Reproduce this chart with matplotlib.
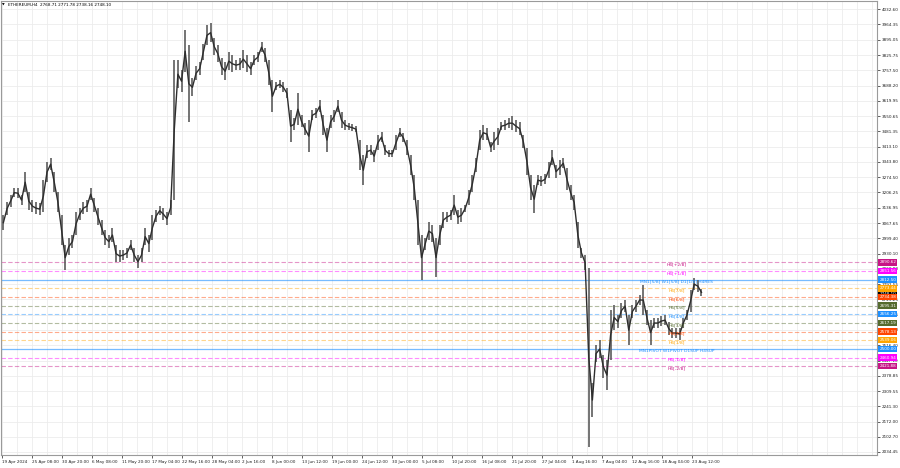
import matplotlib.pyplot as plt
import numpy as np

# ETHEREUM,H4 - each entry = one block of 4 H4 bars (high / low)
high = [3103, 3162, 3194, 3225, 3225, 3194, 3297, 3207, 3171, 3162,
        3158, 3261, 3343, 3361, 3297, 3207, 3103, 2968, 3000, 3013,
        3117, 3135, 3162, 3171, 3225, 3180, 3135, 3081, 3036, 3013,
        3045, 2968, 2946, 2946, 2955, 2991, 2955, 2923, 2955, 3045,
        3013, 3103, 3126, 3144, 3135, 3117, 3171, 3803, 3803, 3758,
        3938, 3870, 3721, 3776, 3794, 3875, 3960, 3970, 3902, 3870,
        3812, 3794, 3839, 3825, 3803, 3812, 3848, 3825, 3794, 3825,
        3839, 3884, 3857, 3803, 3712, 3703, 3712, 3703, 3676, 3577,
        3541, 3654, 3554, 3518, 3532, 3577, 3586, 3622, 3554, 3496,
        3554, 3577, 3622, 3568, 3532, 3518, 3514, 3505, 3442, 3374,
        3419, 3419, 3397, 3464, 3478, 3419, 3397, 3397, 3464, 3496,
        3473, 3442, 3374, 3284, 3171, 3013, 3000, 3072, 3058, 3000,
        3058, 3117, 3117, 3126, 3194, 3126, 3135, 3149, 3216, 3284,
        3361, 3487, 3509, 3496, 3433, 3478, 3496, 3523, 3532, 3541,
        3550, 3532, 3523, 3464, 3406, 3284, 3239, 3284, 3279, 3288,
        3343, 3397, 3329, 3352, 3361, 3315, 3239, 3194, 3072, 2955,
        2923, 2864, 2346, 2517, 2540, 2472, 2449, 2675, 2698, 2652,
        2707, 2720, 2652, 2698, 2720, 2743, 2788, 2675, 2630, 2639,
        2639, 2648, 2652, 2621, 2594, 2594, 2594, 2639, 2675, 2765,
        2819, 2810, 2772]
low = [3036, 3103, 3140, 3185, 3180, 3149, 3207, 3126, 3117, 3108,
       3103, 3117, 3252, 3306, 3207, 3117, 2968, 2855, 2923, 2955,
       3013, 3081, 3108, 3117, 3171, 3117, 3058, 3013, 2968, 2955,
       2982, 2891, 2891, 2901, 2910, 2946, 2891, 2864, 2891, 2968,
       2937, 2991, 3072, 3103, 3081, 3058, 3103, 3171, 3676, 3658,
       3748, 3523, 3640, 3712, 3735, 3803, 3870, 3884, 3825, 3794,
       3735, 3712, 3758, 3748, 3758, 3758, 3767, 3748, 3735, 3780,
       3794, 3839, 3794, 3690, 3568, 3667, 3676, 3658, 3631, 3433,
       3487, 3509, 3500, 3464, 3388, 3532, 3541, 3568, 3464, 3388,
       3496, 3523, 3568, 3496, 3487, 3487, 3482, 3478, 3306, 3239,
       3361, 3374, 3343, 3397, 3433, 3374, 3365, 3365, 3397, 3455,
       3433, 3374, 3284, 3171, 2968, 2810, 2946, 2991, 2982, 2824,
       2968, 3045, 3072, 3081, 3103, 3063, 3072, 3117, 3149, 3207,
       3297, 3397, 3442, 3442, 3388, 3397, 3419, 3487, 3487, 3496,
       3487, 3478, 3464, 3406, 3284, 3171, 3112, 3239, 3234, 3243,
       3270, 3329, 3270, 3284, 3315, 3216, 3171, 3126, 2955, 2910,
       2855, 2057, 2192, 2440, 2458, 2368, 2314, 2449, 2585, 2594,
       2639, 2666, 2517, 2639, 2666, 2698, 2652, 2607, 2517, 2594,
       2594, 2603, 2607, 2562, 2549, 2549, 2540, 2594, 2630, 2666,
       2765, 2756, 2738]

price_ticks = [4032.60, 3964.35, 3895.05, 3825.75, 3757.50, 3688.20, 3619.95,
               3550.65, 3481.35, 3413.10, 3343.80, 3274.50, 3206.25, 3136.95,
               3067.65, 2999.40, 2930.10, 2860.80, 2792.55, 2723.25, 2653.95,
               2585.70, 2516.40, 2447.10, 2378.85, 2309.55, 2241.30, 2172.00,
               2102.70, 2034.45]

time_labels = ["19 Apr 2024", "25 Apr 08:00", "30 Apr 20:00", "6 May 08:00",
               "11 May 20:00", "17 May 04:00", "22 May 16:00", "28 May 04:00",
               "2 Jun 16:00", "8 Jun 00:00", "13 Jun 12:00", "19 Jun 00:00",
               "24 Jun 12:00", "30 Jun 00:00", "5 Jul 08:00", "10 Jul 20:00",
               "16 Jul 08:00", "21 Jul 20:00", "27 Jul 04:00", "1 Aug 16:00",
               "7 Aug 04:00", "12 Aug 16:00", "18 Aug 04:00", "23 Aug 12:00"]

level_prices = [2890.62, 2851.56, 2812.50, 2773.44, 2734.38, 2695.31, 2656.25,
                2617.19, 2578.13, 2539.06, 2500.00, 2460.94, 2421.88]
level_names = ["H4[+2/8]", "H4[+1/8]", "MN1[5/8] W1[5/8] D1[1/8] H4RES",
               "H4[7/8]", "H4[6/8]", "H4[5/8]", "H4[4/8]", "H4[3/8]",
               "H4[2/8]", "H4[1/8]", "MN1PIVOT W1PIVOT D1SUP H4SUP",
               "H4[-1/8]", "H4[-2/8]"]
level_colors = ["#c71585", "#ff00ff", "#1e90ff", "#ffa500", "#ff4500",
                "#556b2f", "#1e90ff", "#556b2f", "#ff4500", "#ffa500",
                "#1e90ff", "#ff00ff", "#c71585"]
level_solid = [False, False, True, False, False, False, False, False,
               False, False, True, False, False]

last_price = 2748.10
title = "ETHEREUM,H4  2768.71 2771.78 2738.16 2748.10"

plt.rcParams['font.family'] = ['DejaVu Sans']

fig = plt.figure(figsize=(9, 4.68), dpi=100)
ax = fig.add_axes([1/900, 13/468, 876/900, 454/468])

x = np.arange(len(high)) * 4 + 1.5   # 4 bars per block
mid = (np.array(high) + np.array(low)) / 2
ax.vlines(x, low, high, color='#5c5c5c', linewidth=1.2, zorder=3)
ax.plot(x, mid, color='#2e2e2e', linewidth=1.0, zorder=4)

# level lines
for p, c, s in zip(level_prices, level_colors, level_solid):
    if s:
        ax.axhline(p, color=c, alpha=0.6, linewidth=0.9, zorder=2)
    else:
        ax.axhline(p, color=c, alpha=0.45, linewidth=0.8,
                   linestyle=(0, (4, 2)), zorder=2)

for p, n, c in zip(level_prices, level_names, level_colors):
    ax.annotate(n, (742.5, p), xytext=(0, -1.6), textcoords='offset points',
                ha='center', va='center', fontsize=3.2, color=c, zorder=5)

ax.yaxis.tick_right()
ax.set_yticks(price_ticks)
ax.set_yticklabels([f"{v:.2f}" for v in price_ticks])
ax.set_xticks(np.arange(len(time_labels)) * 33)
ax.set_xticklabels(time_labels, ha='left')
ax.set_xticks(np.arange(60) * 16.5, minor=True)
ax.tick_params(axis='y', labelsize=3.0, length=2, width=0.5, pad=1.5,
               colors='#202020')
ax.tick_params(axis='x', labelsize=3.0, length=2, width=0.5, pad=1.5,
               colors='#202020')
ax.tick_params(axis='x', which='minor', length=0)
ax.set_xlim(-1.1, 962.6)
ax.set_ylim(2020.9, 4070.0)

ax.grid(True, which='both', color='#ececec', linewidth=0.6, zorder=0)
ax.set_axisbelow(True)
for sp in ax.spines.values():
    sp.set_color('#9a9a9a')
    sp.set_linewidth(0.8)

# price boxes on the right axis
box = dict(boxstyle='square,pad=0.3', ec='none')
ax.annotate(f"{last_price:.2f}", (1, last_price),
            xycoords=('axes fraction', 'data'), xytext=(1.6, 0),
            textcoords='offset points', ha='left', va='center', fontsize=3.0,
            color='white', bbox=dict(box, fc='black'), annotation_clip=False,
            zorder=6)
for p, c in zip(level_prices, level_colors):
    ax.annotate(f"{p:.2f}", (1, p), xycoords=('axes fraction', 'data'),
                xytext=(1.6, 0), textcoords='offset points', ha='left',
                va='center', fontsize=3.0, color='white',
                bbox=dict(box, fc=c), annotation_clip=False, zorder=7)

fig.text(2/900, 1 - 5/468, "\u25bc", fontsize=2.5, va='center')
fig.text(8/900, 1 - 5/468, title, fontsize=3.0, va='center')

fig.savefig("out.png", dpi=100)
